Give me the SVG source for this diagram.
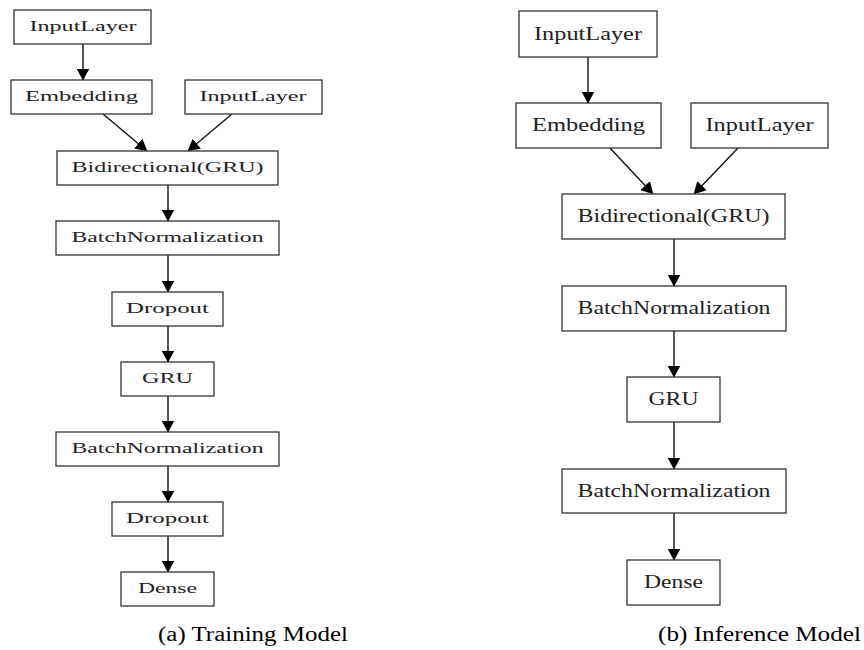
<svg xmlns="http://www.w3.org/2000/svg" width="864" height="650" viewBox="0 0 864 650">
<style>
.box{fill:#fff;stroke:#333;stroke-width:1.3}
text{font-family:'Liberation Serif','DejaVu Serif',serif;text-anchor:middle}
.lt{font-size:15px;fill:#222}
.rt{font-size:18px;fill:#222}
.cap{font-size:20.5px;fill:#000}
.edge{stroke:#111;stroke-width:1.4;fill:none;marker-end:url(#ah)}
</style>
<defs>
<marker id="ah" viewBox="0 0 12 13" refX="11.5" refY="6.5" markerWidth="12" markerHeight="13" markerUnits="userSpaceOnUse" orient="auto">
<path d="M0,0 L12,6.5 L0,13 z" fill="#000"/>
</marker>
</defs>
<rect width="864" height="650" fill="#fff"/>

<g id="edges">
<line class="edge" x1="83" y1="44" x2="83" y2="80"/>
<line class="edge" x1="103" y1="114" x2="147" y2="151"/>
<line class="edge" x1="232" y1="114" x2="188" y2="151"/>
<line class="edge" x1="168" y1="185" x2="168" y2="221"/>
<line class="edge" x1="168" y1="255" x2="168" y2="292"/>
<line class="edge" x1="168" y1="326" x2="168" y2="362"/>
<line class="edge" x1="168" y1="396" x2="168" y2="432"/>
<line class="edge" x1="168" y1="466" x2="168" y2="502"/>
<line class="edge" x1="168" y1="536" x2="168" y2="572"/>

<line class="edge" x1="588" y1="57" x2="588" y2="103"/>
<line class="edge" x1="610" y1="148" x2="653" y2="194"/>
<line class="edge" x1="738" y1="148" x2="694" y2="194"/>
<line class="edge" x1="674" y1="239" x2="674" y2="286"/>
<line class="edge" x1="674" y1="331" x2="674" y2="377"/>
<line class="edge" x1="674" y1="422" x2="674" y2="469"/>
<line class="edge" x1="674" y1="513" x2="674" y2="560"/>
</g>

<g id="a_input1"><rect class="box" x="14" y="10" width="137" height="34"/><text class="lt" x="83" y="31" textLength="107" lengthAdjust="spacingAndGlyphs">InputLayer</text></g>
<g id="a_embedding"><rect class="box" x="11" y="80" width="141" height="34"/><text class="lt" x="81.5" y="101" textLength="113" lengthAdjust="spacingAndGlyphs">Embedding</text></g>
<g id="a_input2"><rect class="box" x="185" y="80" width="137" height="34"/><text class="lt" x="253" y="101" textLength="107" lengthAdjust="spacingAndGlyphs">InputLayer</text></g>
<g id="a_bigru"><rect class="box" x="57" y="151" width="221" height="34"/><text class="lt" x="167.5" y="172" textLength="192" lengthAdjust="spacingAndGlyphs">Bidirectional(GRU)</text></g>
<g id="a_bn1"><rect class="box" x="56" y="221" width="223" height="34"/><text class="lt" x="167.5" y="242" textLength="192" lengthAdjust="spacingAndGlyphs">BatchNormalization</text></g>
<g id="a_drop1"><rect class="box" x="112" y="292" width="111" height="34"/><text class="lt" x="167.5" y="313" textLength="83" lengthAdjust="spacingAndGlyphs">Dropout</text></g>
<g id="a_gru"><rect class="box" x="121" y="362" width="93" height="34"/><text class="lt" x="167.5" y="383" textLength="51" lengthAdjust="spacingAndGlyphs">GRU</text></g>
<g id="a_bn2"><rect class="box" x="56" y="432" width="223" height="34"/><text class="lt" x="167.5" y="453" textLength="192" lengthAdjust="spacingAndGlyphs">BatchNormalization</text></g>
<g id="a_drop2"><rect class="box" x="112" y="502" width="111" height="34"/><text class="lt" x="167.5" y="523" textLength="83" lengthAdjust="spacingAndGlyphs">Dropout</text></g>
<g id="a_dense"><rect class="box" x="121" y="572" width="93" height="34"/><text class="lt" x="167.5" y="593" textLength="59" lengthAdjust="spacingAndGlyphs">Dense</text></g>

<g id="b_input1"><rect class="box" x="519" y="11" width="138" height="46"/><text class="rt" x="588" y="39.5" textLength="108" lengthAdjust="spacingAndGlyphs">InputLayer</text></g>
<g id="b_embedding"><rect class="box" x="516" y="103" width="145" height="45"/><text class="rt" x="588.5" y="131" textLength="113" lengthAdjust="spacingAndGlyphs">Embedding</text></g>
<g id="b_input2"><rect class="box" x="691" y="103" width="137" height="45"/><text class="rt" x="759.5" y="131" textLength="108" lengthAdjust="spacingAndGlyphs">InputLayer</text></g>
<g id="b_bigru"><rect class="box" x="562" y="194" width="223" height="45"/><text class="rt" x="673.5" y="222" textLength="192" lengthAdjust="spacingAndGlyphs">Bidirectional(GRU)</text></g>
<g id="b_bn1"><rect class="box" x="562" y="286" width="224" height="45"/><text class="rt" x="674" y="314" textLength="193" lengthAdjust="spacingAndGlyphs">BatchNormalization</text></g>
<g id="b_gru"><rect class="box" x="627" y="377" width="93" height="45"/><text class="rt" x="673.5" y="405" textLength="50" lengthAdjust="spacingAndGlyphs">GRU</text></g>
<g id="b_bn2"><rect class="box" x="562" y="469" width="224" height="44"/><text class="rt" x="674" y="497" textLength="193" lengthAdjust="spacingAndGlyphs">BatchNormalization</text></g>
<g id="b_dense"><rect class="box" x="627" y="560" width="93" height="45"/><text class="rt" x="673.5" y="588" textLength="59" lengthAdjust="spacingAndGlyphs">Dense</text></g>

<g id="captions">
<text class="cap" x="253" y="641" textLength="190" lengthAdjust="spacingAndGlyphs">(a) Training Model</text>
<text class="cap" x="759.5" y="641" textLength="203" lengthAdjust="spacingAndGlyphs">(b) Inference Model</text>
</g>
</svg>
